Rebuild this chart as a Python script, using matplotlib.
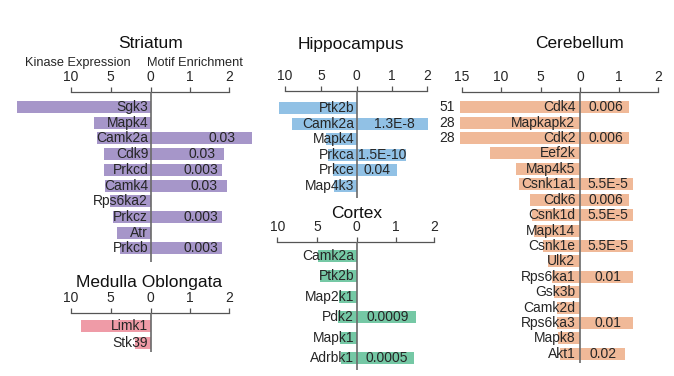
import numpy as np
import matplotlib
matplotlib.use("Agg")
import matplotlib.pyplot as plt

plt.rcParams['font.family'] = ['Liberation Sans', 'DejaVu Sans']

# ---- data ----
striatum_genes = ['Sgk3', 'Mapk4', 'Camk2a', 'Cdk9', 'Prkcd', 'Camk4', 'Rps6ka2', 'Prkcz', 'Atr', 'Prkcb']
striatum_expr = [16.7, 7.1, 6.7, 5.8, 5.8, 5.7, 5.1, 4.75, 4.25, 3.9]
striatum_motif = [0, 0, 2.6, 1.89, 1.83, 1.95, 0, 1.83, 0, 1.83]
striatum_pval = ['', '', '0.03', '0.03', '0.003', '0.03', '', '0.003', '', '0.003']

medulla_genes = ['Limk1', 'Stk39']
medulla_expr = [8.7, 1.96]
medulla_motif = [0, 0]
medulla_pval = ['', '']

hippo_genes = ['Ptk2b', 'Camk2a', 'Mapk4', 'Prkca', 'Prkce', 'Map4k3']
hippo_expr = [10.9, 9.0, 4.3, 3.96, 3.26, 3.2]
hippo_motif = [0, 2.05, 0, 1.4, 1.14, 0]
hippo_pval = ['', '1.3E-8', '', '1.5E-10', '0.04', '']

cortex_genes = ['Camk2a', 'Ptk2b', 'Map2k1', 'Pdk2', 'Mapk1', 'Adrbk1']
cortex_expr = [4.84, 4.6, 2.2, 2.3, 2.1, 2.0]
cortex_motif = [0, 0, 0, 1.53, 0, 1.48]
cortex_pval = ['', '', '', '0.0009', '', '0.0005']

cereb_genes = ['Cdk4', 'Mapkapk2', 'Cdk2', 'Eef2k', 'Map4k5', 'Csnk1a1', 'Cdk6', 'Csnk1d',
               'Mapk14', 'Csnk1e', 'Ulk2', 'Rps6ka1', 'Gsk3b', 'Camk2d', 'Rps6ka3', 'Mapk8', 'Akt1']
cereb_expr = [51, 28, 28, 11.4, 8.15, 7.7, 6.3, 6.1, 5.8, 4.65, 4.0, 3.6, 3.25, 2.95, 2.95, 2.75, 2.5]
cereb_motif = [1.27, 0, 1.27, 0, 0, 1.36, 1.27, 1.36, 0, 1.36, 0, 1.36, 0, 0, 1.36, 0, 1.16]
cereb_pval = ['0.006', '', '0.006', '', '', '5.5E-5', '0.006', '5.5E-5', '', '5.5E-5', '',
              '0.01', '', '', '0.01', '', '0.02']

W, H = 674, 376
fig = plt.figure(figsize=(W / 100, H / 100), dpi=100)
TXT = '#262626'


def panel(title, genes, expr, motif, pval, color, zero, lppu, rppu, lmax,
          axis_y, first, pitch, end, title_y, title_dx=0, num_frac=0.52, name_pad=2.5, clip=None):
    f = lppu / rppu
    x_left = zero - lmax * lppu
    x_right = zero + 2 * rppu
    ax = fig.add_axes([x_left / W, 1 - end / H, (x_right - x_left) / W, (end - axis_y) / H])
    ax.patch.set_alpha(0)
    n = len(genes)
    y = np.arange(n)
    e = np.array(expr, dtype=float)
    shown = e if clip is None else np.minimum(e, clip)
    bh = 12 / pitch
    ax.barh(y, -shown * f, height=bh, color=color, clip_on=False, zorder=1)
    ax.barh(y, motif, height=bh, color=color, clip_on=False, zorder=1)
    ax.set_xlim(-lmax * f, 2)
    ax.set_ylim((end - first) / pitch, -(first - axis_y) / pitch)
    ax.axvline(0, color='#6a6a6a', lw=1.2, zorder=3)
    for i in range(n):
        ax.text(-name_pad / rppu, y[i], genes[i], ha='right', va='center',
                fontsize=10, color=TXT, zorder=4)
        if pval[i]:
            ax.text(motif[i] * num_frac, y[i], pval[i], ha='center', va='center',
                    fontsize=10, color=TXT, zorder=4)
        if clip is not None and e[i] > clip:
            ax.text(-lmax * f - 6.5 / rppu, y[i], '%d' % e[i], ha='right', va='center',
                    fontsize=10, color=TXT, clip_on=False)
    step = 5
    lt = np.arange(lmax, 0, -step)
    ax.set_xticks(list(-lt * f) + [0, 1, 2])
    ax.set_xticklabels(['%d' % v for v in lt] + ['0', '1', '2'])
    ax.set_yticks([])
    for s in ['left', 'right', 'bottom']:
        ax.spines[s].set_visible(False)
    ax.spines['top'].set_color('#555555')
    ax.spines['top'].set_linewidth(0.9)
    ax.xaxis.tick_top()
    ax.tick_params(axis='x', direction='out', length=3.5, width=0.9, color='#555555',
                   pad=2, labelsize=10, labelcolor=TXT)
    fig.text((zero + title_dx) / W, 1 - title_y / H, title, ha='center', va='center',
             fontsize=12.5, color='#111111')
    return ax


panel('Striatum', striatum_genes, striatum_expr, striatum_motif, striatum_pval, '#a696c9',
      150.7, 8.0, 39.0, 10, 92, 107, 15.7, 262, 44, num_frac=0.7)
panel('Medulla Oblongata', medulla_genes, medulla_expr, medulla_motif, medulla_pval, '#ef9ba7',
      150.7, 8.0, 39.0, 10, 313, 326, 17.2, 352, 283, title_dx=-2)
panel('Hippocampus', hippo_genes, hippo_expr, hippo_motif, hippo_pval, '#91c1e5',
      356.7, 7.17, 35.0, 10, 91, 108.3, 15.5, 198, 44, title_dx=-5.5)
panel('Cortex', cortex_genes, cortex_expr, cortex_motif, cortex_pval, '#75c8a5',
      356.7, 7.94, 38.8, 10, 241.7, 255.7, 20.5, 370, 213)
panel('Cerebellum', cereb_genes, cereb_expr, cereb_motif, cereb_pval, '#f0b998',
      580, 7.89, 38.85, 15, 91.7, 107.3, 15.4, 363, 43.3, name_pad=4.5, clip=15.2)

fig.text(131 / W, 1 - 63 / H, 'Kinase Expression', ha='right', va='center', fontsize=9.2, color=TXT)
fig.text(146.7 / W, 1 - 63 / H, 'Motif Enrichment', ha='left', va='center', fontsize=9.2, color=TXT)

fig.savefig('out.png', dpi=100)
